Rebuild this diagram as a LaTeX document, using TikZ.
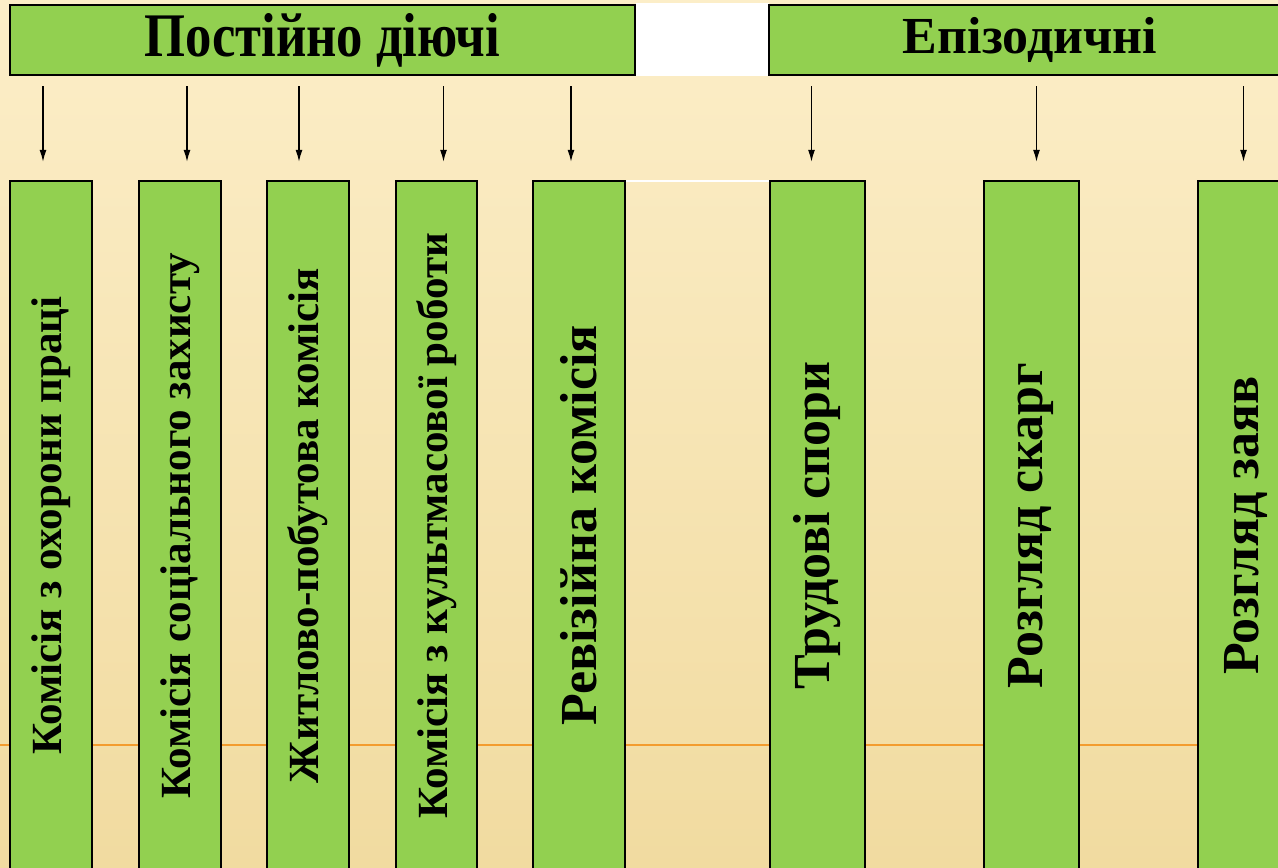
\documentclass[tikz,border=0pt]{standalone}
\usepackage{graphicx}
\usepackage{fontspec}
\setmainfont{Liberation Serif}
\usetikzlibrary{arrows.meta,calc}
\definecolor{boxgreen}{RGB}{146,208,80}
\definecolor{paperlight}{RGB}{252,238,200}
\definecolor{paperdark}{RGB}{241,219,160}
\definecolor{themeline}{RGB}{243,156,46}
\tikzset{
  hdrbox/.style={draw=black, line width=2.4pt, fill=boxgreen, inner sep=0pt, minimum height=70pt},
  colbox/.style={draw=black, line width=2.4pt, fill=boxgreen, inner sep=0pt, minimum height=689pt},
  down/.style={-{Latex[length=12pt,width=7pt]}, line width=1.3pt},
}
\begin{document}
\begin{tikzpicture}[x=1pt,y=-1pt]
\useasboundingbox (0,0) rectangle (1278,868);
\clip (0,0) rectangle (1278,868);
% slide background
\shade[top color=paperlight, bottom color=paperdark] (0,0) rectangle (1278,868);
\draw[themeline, line width=1.5pt] (0,745) -- (1278,745);
\fill[white] (636,3) rectangle (769,76);
\draw[white, line width=1.5pt] (625,181) -- (770,181);
% headers
\node[hdrbox, minimum width=625pt] (perm) at (322.5,40) {\scalebox{0.85}[1]{\fontsize{62}{62}\selectfont\bfseries Постійно діючі}};
\node[hdrbox, minimum width=522pt] (epis) at (1030,40) {\fontsize{52}{52}\selectfont\bfseries Епізодичні};
% columns
\node[colbox, minimum width=82pt] (k1) at (51,525.5) {\rotatebox{90}{\fontsize{43}{43}\selectfont\bfseries Комісія з охорони праці}};
\node[colbox, minimum width=82pt] (k2) at (180,525.5) {\rotatebox{90}{\fontsize{43}{43}\selectfont\bfseries Комісія соціального захисту}};
\node[colbox, minimum width=82pt] (k3) at (308,525.5) {\rotatebox{90}{\fontsize{43}{43}\selectfont\bfseries Житлово-побутова комісія}};
\node[colbox, minimum width=81pt] (k4) at (436.5,525.5) {\rotatebox{90}{\fontsize{43}{43}\selectfont\bfseries Комісія з культмасової роботи}};
\node[colbox, minimum width=92pt] (k5) at (579,525.5) {\rotatebox{90}{\fontsize{52}{52}\selectfont\bfseries Ревізійна комісія}};
\node[colbox, minimum width=95pt] (k6) at (817.5,525.5) {\rotatebox{90}{\fontsize{52}{52}\selectfont\bfseries Трудові спори}};
\node[colbox, minimum width=95pt] (k7) at (1031.5,525.5) {\rotatebox{90}{\fontsize{52}{52}\selectfont\bfseries Розгляд скарг}};
\node[colbox, minimum width=95pt] (k8) at (1245.5,525.5) {\rotatebox{90}{\fontsize{52}{52}\selectfont\bfseries Розгляд заяв}};
% arrows
\draw[down] ($(perm.south -| k1.north)+(-8,10)$) -- ($(k1.north)+(-8,-18)$);
\draw[down] ($(perm.south -| k2.north)+(7,10)$) -- ($(k2.north)+(7,-18)$);
\draw[down] ($(perm.south -| k3.north)+(-9,10)$) -- ($(k3.north)+(-9,-18)$);
\draw[down] ($(perm.south -| k4.north)+(7,10)$) -- ($(k4.north)+(7,-18)$);
\draw[down] ($(perm.south -| k5.north)+(-8,10)$) -- ($(k5.north)+(-8,-18)$);
\draw[down] ($(epis.south -| k6.north)+(-6,10)$) -- ($(k6.north)+(-6,-18)$);
\draw[down] ($(epis.south -| k7.north)+(5,10)$) -- ($(k7.north)+(5,-18)$);
\draw[down] ($(epis.south -| k8.north)+(-2,10)$) -- ($(k8.north)+(-2,-18)$);
\end{tikzpicture}
\end{document}
